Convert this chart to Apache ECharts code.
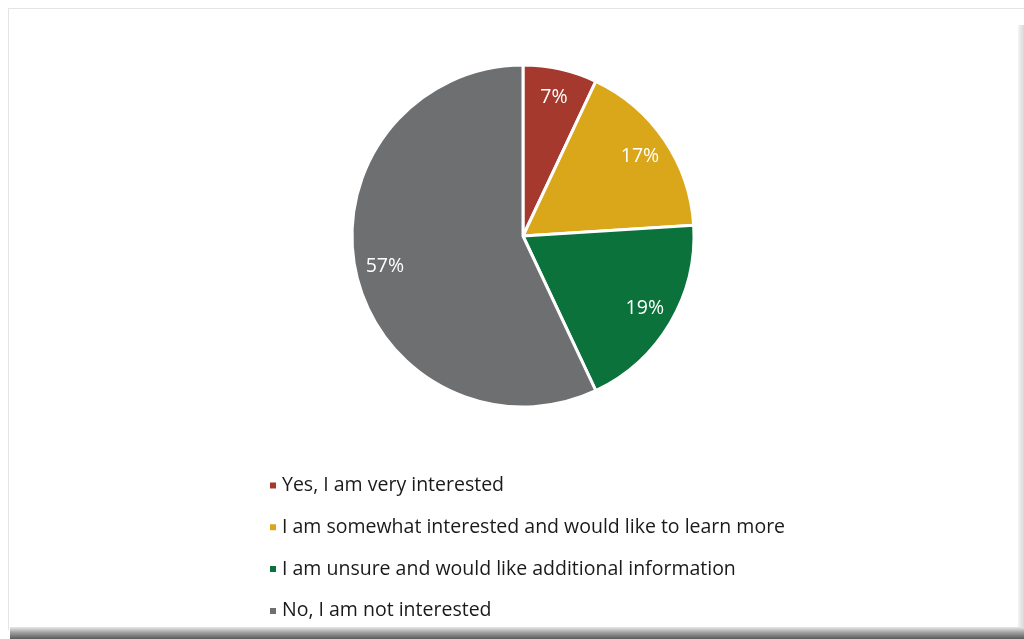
<!DOCTYPE html>
<html>
<head>
<meta charset="utf-8">
<script src="https://cdn.jsdelivr.net/npm/echarts@6/dist/echarts.min.js"></script>
<style>
html,body{margin:0;padding:0;background:#fff;}
#chart{width:1024px;height:639px;}
</style>
</head>
<body>
<div id="chart"></div>
<script>
const categories = [
  'Yes, I am very interested',
  'I am somewhat interested and would like to learn more',
  'I am unsure and would like additional information',
  'No, I am not interested'
];
const values = [7, 17, 19, 57];
const colors = ['#A5392E', '#DAA61A', '#0B723B', '#6E6F71'];

const chart = echarts.init(document.getElementById('chart'));
const pieData = categories.map((c, i) => ({ name: c, value: values[i], itemStyle: { color: colors[i] } }));
const labelData = categories.map((c, i) => ({ name: c, value: values[i] }));
const fontFam = '"Open Sans", "Noto Sans", sans-serif';

chart.setOption({
  animation: false,
  backgroundColor: '#ffffff',
  graphic: [
    { type: 'rect', shape: { x: 8, y: 8, width: 1016, height: 1 }, style: { fill: '#e4e4e4' }, z: -1 },
    { type: 'rect', shape: { x: 8, y: 8, width: 1, height: 622 }, style: { fill: '#e4e4e4' }, z: -1 },
    { type: 'rect', shape: { x: 1018, y: 25, width: 6, height: 605 },
      style: { fill: new echarts.graphic.LinearGradient(0, 0, 1, 0, [{ offset: 0, color: '#f4f4f4' }, { offset: 1, color: '#d8d8d8' }]) }, z: -1 },
    { type: 'rect', shape: { x: 10, y: 627, width: 1014, height: 12 },
      style: { fill: new echarts.graphic.LinearGradient(0, 0, 0, 1, [{ offset: 0, color: '#e8e8e8' }, { offset: 0.5, color: '#9a9a9a' }, { offset: 1, color: '#5a5a5a' }]) }, z: -1 }
  ],
  legend: {
    orient: 'vertical',
    left: 268,
    top: 475.5,
    padding: 0,
    icon: 'rect',
    itemWidth: 8,
    itemHeight: 8,
    itemGap: 21.8,
    selectedMode: false,
    data: categories.map((c, i) => ({ name: c, itemStyle: { color: colors[i] } })),
    textStyle: { fontFamily: fontFam, fontSize: 19.5, color: '#1a1a1a', lineHeight: 20, padding: [0, 0, 0, 0] }
  },
  series: [
    {
      type: 'pie',
      center: [523, 236],
      radius: [0, 171],
      startAngle: 90,
      clockwise: true,
      silent: true,
      label: { show: false },
      labelLine: { show: false },
      itemStyle: { borderColor: '#ffffff', borderWidth: 3 },
      data: pieData
    },
    {
      type: 'pie',
      center: [523, 236],
      radius: [106, 171],
      startAngle: 90,
      clockwise: true,
      silent: true,
      itemStyle: { color: 'rgba(0,0,0,0)', borderWidth: 0 },
      label: {
        show: true,
        position: 'inside',
        formatter: '{c}%',
        color: '#ffffff',
        fontFamily: fontFam,
        fontSize: 19.5
      },
      labelLine: { show: false },
      data: labelData
    }
  ]
});
</script>
</body>
</html>
